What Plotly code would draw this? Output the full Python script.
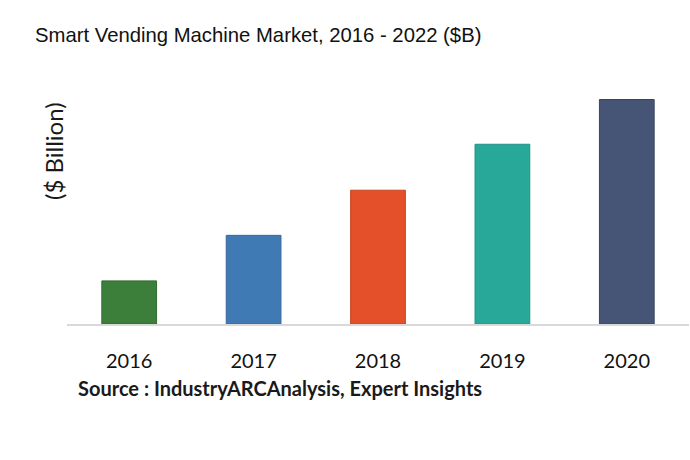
import plotly.graph_objects as go

years = ["2016", "2017", "2018", "2019", "2020"]
values = [1.06, 2.18, 3.29, 4.42, 5.52]
colors = ["#3B7F3B", "#3F7AB5", "#E4502A", "#27A898", "#465575"]
edges = ["#2F6A2F", "#35689C", "#C9441F", "#1F9285", "#39465F"]

title_text = "Smart Vending Machine Market, 2016 - 2022 ($B)"
ytitle_text = "($ Billion)"
source_text = "Source : IndustryARCAnalysis, Expert Insights"

fig = go.Figure(go.Bar(
    x=years, y=values,
    marker=dict(color=colors, line=dict(color=edges, width=1)),
    width=0.44,
    hoverinfo="skip",
))

fig.update_layout(
    width=690, height=460,
    margin=dict(l=67, r=1, t=80, b=136),
    paper_bgcolor="white", plot_bgcolor="white",
    showlegend=False,
    title=dict(text=title_text, x=35/690, xanchor="left", y=1-35/460, yanchor="middle",
               font=dict(family="Liberation Sans, Arial", size=20.3, color="#111111")),
    xaxis=dict(showline=True, linecolor="#d9d9d9", linewidth=2, ticks="",
               tickfont=dict(family="Lato, Open Sans", size=20, color="#111111"),
               ticklabelstandoff=18,
               range=[-0.5, 4.5]),
    yaxis=dict(range=[0, 6], showticklabels=False, showgrid=False, zeroline=False, showline=False),
    annotations=[
        dict(text=ytitle_text, textangle=-90, xref="paper", yref="paper",
             x=-14/623, y=(324-151)/244, xanchor="center", yanchor="middle", showarrow=False,
             font=dict(family="Lato, Open Sans", size=24, color="#1a1a1a")),
        dict(text="<b>" + source_text + "</b>", xref="paper", yref="paper",
             x=(76-67)/623, y=-(388-324)/244, xanchor="left", yanchor="middle", showarrow=False,
             font=dict(family="Lato, Open Sans", size=20, color="#1a1a1a")),
    ],
)

fig.write_html("out.html", config={"displayModeBar": False},
               post_script="document.body.style.margin='0';")
